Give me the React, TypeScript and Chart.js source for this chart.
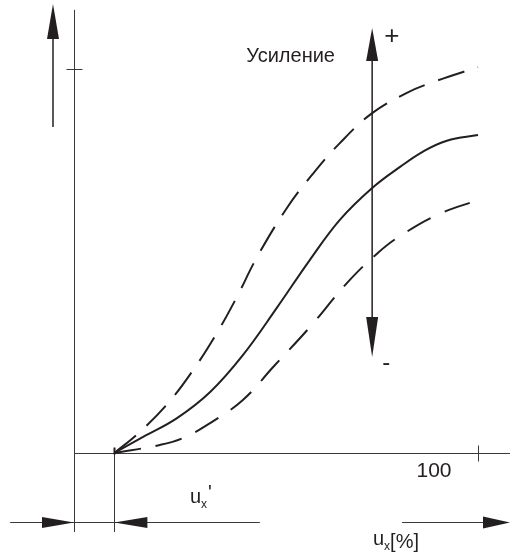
import React, { useEffect, useRef } from "react";
import { Chart, registerables } from "chart.js";

Chart.register(...registerables);

// ---- data (x: u_x in %, y: output in % of the y tick) ----
const solidX = [10, 17.1, 25.5, 33.7, 41.8, 50.2, 58.4, 65.8, 73.8, 80.7, 86.4, 92.3, 100];
const solidY = [0, 4.2, 9.1, 15.9, 25.5, 37.8, 50.3, 60.7, 69.0, 74.5, 78.5, 81.3, 82.8];

const highX = [10, 16.3, 23.3, 29.5, 35.4, 40.3, 45.3, 52.7, 58.9, 65.8, 73.8, 82.4, 88.9, 100];
const highY = [0, 5.5, 13.0, 21.6, 31.3, 40.6, 51.0, 63.8, 72.4, 80.7, 88.5, 93.8, 96.6, 100.5];

const lowX = [10, 21.3, 27.0, 33.7, 41.8, 49.3, 58.4, 67.6, 75.2, 80.7, 89.9, 100];
const lowY = [0, 2.1, 3.9, 7.8, 13.8, 22.4, 32.8, 44.3, 52.1, 56.5, 62.0, 65.9];

const xTickLabels = ["100"];
const xTickValues = [100];
const yTickValues = [100];
const offsetValue = 10; // u_x'
const gainAxisX = 73.8;

const labelGain = "Усиление";
const labelPlus = "+";
const labelMinus = "-";
const labelOffset = "u";
const labelOffsetSub = "x";
const labelOffsetPrime = "'";
const labelAxis = "u";
const labelAxisSub = "x";
const labelAxisUnit = "[%]";

// ---- view ----
const X_MIN = -18.317;
const X_MAX = 107.921;
const Y_MIN = -27.344;
const Y_MAX = 117.969;

const INK = "#231f20";
const AXIS_INK = "#3a3a3a";
const FONT = "Liberation Sans, Arial, sans-serif";

const pts = (xs: number[], ys: number[]) => xs.map((x, i) => ({ x, y: ys[i] }));

function crisp(v: number) {
  return Math.round(v) + 0.5;
}

function seg(ctx: CanvasRenderingContext2D, x1: number, y1: number, x2: number, y2: number) {
  ctx.beginPath();
  ctx.moveTo(x1, y1);
  ctx.lineTo(x2, y2);
  ctx.stroke();
}

function head(
  ctx: CanvasRenderingContext2D,
  tx: number,
  ty: number,
  dx: number,
  dy: number,
  len: number,
  hw: number
) {
  const bx = tx - dx * len;
  const by = ty - dy * len;
  const nx = -dy;
  const ny = dx;
  ctx.beginPath();
  ctx.moveTo(tx, ty);
  ctx.lineTo(bx + nx * hw, by + ny * hw);
  ctx.lineTo(bx - nx * hw, by - ny * hw);
  ctx.closePath();
  ctx.fill();
}

const diagramPlugin = {
  id: "diagram",
  beforeDatasetsDraw(chart: any) {
    const { ctx, scales } = chart;
    const X = (v: number) => scales.x.getPixelForValue(v);
    const Y = (v: number) => scales.y.getPixelForValue(v);
    ctx.save();
    ctx.strokeStyle = AXIS_INK;
    ctx.lineWidth = 1;
    const x0 = crisp(X(0));
    const y0 = crisp(Y(0));
    // y axis
    seg(ctx, x0, Y(115.4), x0, Y(-20.6));
    // x axis
    seg(ctx, x0, y0, X(X_MAX), y0);
    // y tick
    yTickValues.forEach((v) => {
      const yy = crisp(Y(v));
      seg(ctx, x0 - 8, yy, x0 + 8, yy);
    });
    // x tick
    xTickValues.forEach((v) => {
      const xx = crisp(X(v));
      seg(ctx, xx, y0 - 8, xx, y0 + 8);
    });
    // offset marker line
    const xo = crisp(X(offsetValue));
    seg(ctx, xo, y0, xo, Y(-20.6));
    ctx.lineWidth = 2;
    ctx.strokeStyle = INK;
    seg(ctx, xo, y0 - 6, xo, y0 + 1);
    ctx.restore();
  },
  afterDatasetsDraw(chart: any) {
    const { ctx, scales } = chart;
    const X = (v: number) => scales.x.getPixelForValue(v);
    const Y = (v: number) => scales.y.getPixelForValue(v);
    ctx.save();
    ctx.fillStyle = INK;
    ctx.strokeStyle = INK;
    ctx.lineWidth = 1.5;

    // left output arrow
    const xl = X(-5.2);
    seg(ctx, xl, Y(84.9), xl, Y(108));
    head(ctx, xl, Y(116.9), 0, -1, 35, 6);

    // gain arrow
    const xg = X(gainAxisX);
    seg(ctx, xg, Y(104), xg, Y(34));
    head(ctx, xg, Y(110.7), 0, -1, 33, 6);
    head(ctx, xg, Y(25.0), 0, 1, 40, 6);

    // bottom dimension line
    ctx.strokeStyle = AXIS_INK;
    ctx.lineWidth = 1;
    const yd = crisp(Y(-18));
    seg(ctx, X(-15.8), yd, X(46), yd);
    head(ctx, X(0), yd, 1, 0, 32, 5.5);
    head(ctx, X(offsetValue), yd, -1, 0, 33, 5.5);

    // u_x axis arrow
    seg(ctx, X(81.2), yd, X(X_MAX) - 10, yd);
    head(ctx, X(X_MAX), yd, 1, 0, 27, 6);

    // texts
    ctx.fillStyle = INK;
    ctx.textBaseline = "alphabetic";
    ctx.font = `20px ${FONT}`;
    ctx.textAlign = "right";
    ctx.fillText(labelGain, X(64.6), Y(103.6) + 7);

    ctx.textAlign = "center";
    ctx.font = `26px ${FONT}`;
    ctx.fillText(labelPlus, X(78.7), Y(108.9) + 9);
    ctx.font = `24px ${FONT}`;
    ctx.fillText(labelMinus, X(77.3), Y(23.7) + 8);

    ctx.font = `21px ${FONT}`;
    xTickValues.forEach((v, i) => {
      ctx.fillText(xTickLabels[i], X(v) - 44, Y(0) + 24);
    });

    // u_x'
    ctx.textAlign = "left";
    let bx = X(28.7);
    let by = Y(-13.0);
    ctx.font = `20px ${FONT}`;
    ctx.fillText(labelOffset, bx, by);
    bx += ctx.measureText(labelOffset).width;
    ctx.font = `12px ${FONT}`;
    ctx.fillText(labelOffsetSub, bx, by + 5);
    bx += ctx.measureText(labelOffsetSub).width + 1;
    ctx.font = `20px ${FONT}`;
    ctx.fillText(labelOffsetPrime, bx, by - 4);

    // u_x[%]
    bx = X(74.0);
    by = Y(-24.0);
    ctx.font = `20px ${FONT}`;
    ctx.fillText(labelAxis, bx, by);
    bx += ctx.measureText(labelAxis).width;
    ctx.font = `12px ${FONT}`;
    ctx.fillText(labelAxisSub, bx, by + 5);
    bx += ctx.measureText(labelAxisSub).width;
    ctx.font = `20px ${FONT}`;
    ctx.fillText(labelAxisUnit, bx, by + 3);

    ctx.restore();
  },
};

export default function App() {
  const ref = useRef<HTMLCanvasElement | null>(null);
  useEffect(() => {
    if (!ref.current) return;
    const common = {
      showLine: true,
      pointRadius: 0,
      borderColor: INK,
      borderWidth: 2,
      tension: 0.4,
      fill: false,
    };
    const chart = new Chart(ref.current, {
      type: "scatter",
      data: {
        datasets: [
          { ...common, label: "high", data: pts(highX, highY), borderDash: [28, 14] },
          { ...common, label: "mid", data: pts(solidX, solidY) },
          { ...common, label: "low", data: pts(lowX, lowY), borderDash: [27, 15] },
        ],
      },
      options: {
        animation: false,
        responsive: false,
        devicePixelRatio: 1,
        layout: { padding: 0 },
        plugins: { legend: { display: false }, tooltip: { enabled: false } },
        scales: {
          x: { type: "linear", min: X_MIN, max: X_MAX, display: false },
          y: { type: "linear", min: Y_MIN, max: Y_MAX, display: false },
        },
      },
      plugins: [diagramPlugin],
    });
    return () => chart.destroy();
  }, []);
  return (
    <div style={{ position: "absolute", left: 0, top: 0, width: 510, height: 558, background: "#fff" }}>
      <canvas ref={ref} width={510} height={558} style={{ display: "block" }} />
    </div>
  );
}
